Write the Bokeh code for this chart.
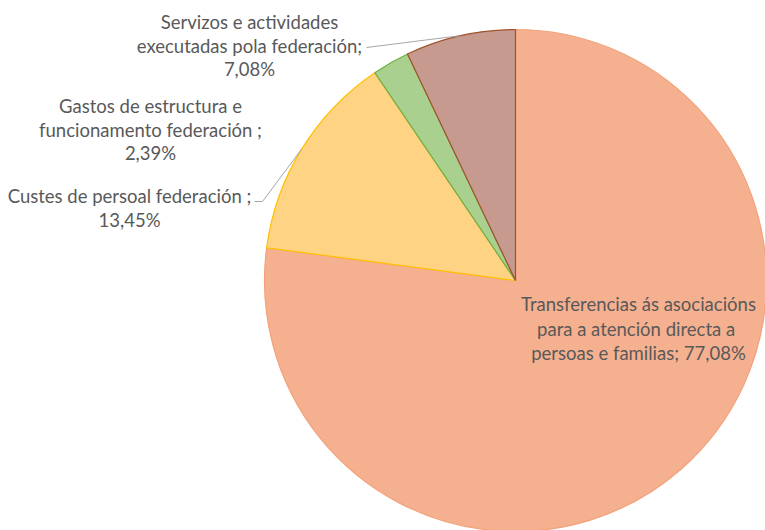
import math
from bokeh.plotting import figure
from bokeh.models import Range1d
from bokeh.core.properties import value
from bokeh.embed import file_html
from bokeh.resources import INLINE

# Data
categories = [
    "Transferencias ás asociacións para a atención directa a persoas e familias",
    "Custes de persoal federación",
    "Gastos de estrutura e funcionamento federación",
    "Servizos e actividades executadas pola federación",
]
percent = [77.08, 13.45, 2.39, 7.08]
percent_labels = ["77,08%", "13,45%", "2,39%", "7,08%"]
fills = ["#F5B090", "#FED384", "#A9D08E", "#C69A8E"]
edges = ["#F2A27A", "#FFC000", "#70AD47", "#A0522D"]

W, H = 765, 530
cx, cy, R = 515, 250, 251  # y measured upward

p = figure(width=W, height=H, output_backend="svg", toolbar_location=None,
           x_range=Range1d(0, W), y_range=Range1d(0, H), min_border=0)
p.axis.visible = False
p.grid.visible = False
p.outline_line_color = None
p.background_fill_color = "white"

total = sum(percent)
starts, ends, mids = [], [], []
a = 90.0
for v in percent:
    sweep = 360.0 * v / total
    starts.append(math.radians(a))
    ends.append(math.radians(a - sweep))
    mids.append(math.radians(a - sweep / 2))
    a -= sweep

p.wedge(x=[cx] * 4, y=[cy] * 4, radius=R, start_angle=starts, end_angle=ends,
        direction="clock", fill_color=fills, line_color=edges, line_width=1.2)

font = value("Lato")
tcolor = "#595959"
fs = "18.5px"


def txt(x, y_pix, s, align="center"):
    p.text(x=[x], y=[H - y_pix], text=[s], text_font=font, text_font_size=fs,
           text_color=tcolor, text_align=align, text_baseline="middle")


# Servizos label
txt(249, 21, "Servizos e actividades")
txt(249, 45, "executadas pola federación;")
txt(249, 68, percent_labels[3])
# Gastos label
txt(150, 105, "Gastos de estructura e")
txt(150, 129, "funcionamento federación ;")
txt(150, 152, percent_labels[2])
# Custes label
txt(129, 195, "Custes de persoal federación ;")
txt(129, 219, percent_labels[1])
# Transferencias label
txt(638, 303, "Transferencias ás asociacións")
txt(638, 328, "para a  atención directa a")
txt(638, 352, "persoas e familias; " + percent_labels[0])

# leader lines to slice mid-arcs
m3 = mids[3]
p.line(x=[366, cx + R * math.cos(m3)], y=[H - 47, cy + R * math.sin(m3)],
       line_color="#A6A6A6", line_width=1)
m1 = mids[1]
p.line(x=[254, 262, cx + R * math.cos(m1)], y=[H - 201, H - 201, cy + R * math.sin(m1)],
       line_color="#A6A6A6", line_width=1)

open("out.html", "w").write(file_html(p, INLINE))
